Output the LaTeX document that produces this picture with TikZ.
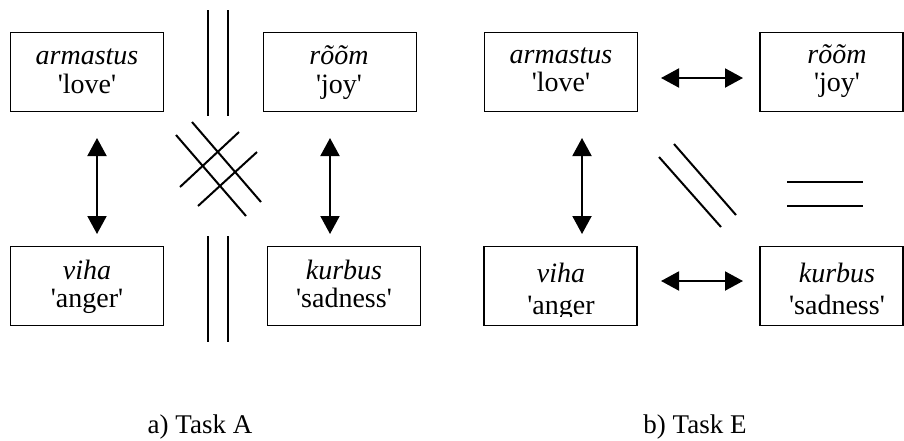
\documentclass[tikz,border=0pt]{standalone}
\usepackage{fontspec}
\setmainfont{Liberation Serif}[Ligatures=TeXOff]
\usetikzlibrary{arrows.meta}
\tikzset{
  wordbox/.style={draw=black, line width=1.8pt, minimum width=153pt, minimum height=79pt, inner sep=0pt},
  wordtxt/.style={anchor=base, inner sep=0pt, font=\fontsize{28}{30}\selectfont},
  captxt/.style={anchor=base, inner sep=0pt, font=\fontsize{27}{30}\selectfont},
  dbl/.style={line width=2pt},
  arr/.style={line width=2pt, {Triangle[width=19pt,length=18pt]}-{Triangle[width=19pt,length=18pt]}}
}
\begin{document}
\begin{tikzpicture}[x=1pt,y=-1pt]
\useasboundingbox (0,0) rectangle (904,440);
% ---------- panel a ----------
\node[wordbox] (aA) at (87,72) {};
\node[wordbox] (aR) at (340,72) {};
\node[wordbox] (aV) at (87,286) {};
\node[wordbox] (aK) at (344,286) {};
\node[wordtxt] (aAw) at (87,64) {\textit{armastus}};
\node[wordtxt] (aAg) at (87,93) {'love'};
\node[wordtxt] (aRw) at (339,64) {\textit{rõõm}};
\node[wordtxt] (aRg) at (339,93) {'joy'};
\node[wordtxt] (aVw) at (87,279) {\textit{viha}};
\node[wordtxt] (aVg) at (87,307) {'anger'};
\node[wordtxt] (aKw) at (344,279) {\textit{kurbus}};
\node[wordtxt] (aKg) at (344,307) {'sadness'};
% vertical arrows
\coordinate (aL1) at (97,138); \coordinate (aL2) at (97,234);
\coordinate (aR1) at (330,138); \coordinate (aR2) at (330,234);
\draw[arr] (aL1) -- (aL2);
\draw[arr] (aR1) -- (aR2);
% double vertical bars
\coordinate (t1a) at (208,10); \coordinate (t1b) at (208,116);
\coordinate (t2a) at (228,10); \coordinate (t2b) at (228,116);
\coordinate (b1a) at (208,236); \coordinate (b1b) at (208,342);
\coordinate (b2a) at (228,236); \coordinate (b2b) at (228,342);
\draw[dbl] (t1a) -- (t1b);
\draw[dbl] (t2a) -- (t2b);
\draw[dbl] (b1a) -- (b1b);
\draw[dbl] (b2a) -- (b2b);
% crosshatch
\coordinate (x1a) at (192,122); \coordinate (x1b) at (261,202);
\coordinate (x2a) at (176,135); \coordinate (x2b) at (246,216);
\coordinate (x3a) at (180,187); \coordinate (x3b) at (239,132);
\coordinate (x4a) at (198,206); \coordinate (x4b) at (257,152);
\draw[dbl] (x1a) -- (x1b);
\draw[dbl] (x2a) -- (x2b);
\draw[dbl] (x3a) -- (x3b);
\draw[dbl] (x4a) -- (x4b);
% ---------- panel b ----------
\node[wordbox] (bA) at (561,72) {};
\node[wordbox, minimum width=143pt] (bR) at (831.5,72) {};
\node[wordbox] (bV) at (560.5,286) {};
\node[wordbox, minimum width=143pt] (bK) at (831.5,286) {};
\node[wordtxt] (bAw) at (561,63) {\textit{armastus}};
\node[wordtxt] (bAg) at (561,91) {'love'};
\node[wordtxt] (bRw) at (837,63) {\textit{rõõm}};
\node[wordtxt] (bRg) at (837,91) {'joy'};
\node[wordtxt] (bVw) at (561,282) {\textit{viha}};
\begin{scope}
  \clip (490,290) rectangle (630,316.5);
  \node[wordtxt] (bVg) at (561,314) {'anger};
\end{scope}
\node[wordtxt] (bKw) at (837,282) {\textit{kurbus}};
\node[wordtxt] (bKg) at (837,314) {'sadness'};
% arrows
\coordinate (bT1) at (661,78); \coordinate (bT2) at (743,78);
\coordinate (bB1) at (661,281); \coordinate (bB2) at (743,281);
\coordinate (bL1) at (582,138); \coordinate (bL2) at (582,234);
\draw[arr] (bT1) -- (bT2);
\draw[arr] (bB1) -- (bB2);
\draw[arr] (bL1) -- (bL2);
% diagonal double line
\coordinate (d1a) at (659,157); \coordinate (d1b) at (721,227);
\coordinate (d2a) at (674,144); \coordinate (d2b) at (736,215);
\draw[dbl] (d1a) -- (d1b);
\draw[dbl] (d2a) -- (d2b);
% equals sign
\coordinate (e1a) at (787,182); \coordinate (e1b) at (863,182);
\coordinate (e2a) at (787,206); \coordinate (e2b) at (863,206);
\draw[dbl] (e1a) -- (e1b);
\draw[dbl] (e2a) -- (e2b);
% ---------- captions ----------
\node[captxt] (capA) at (200,433) {a) Task A};
\node[captxt] (capB) at (695,433) {b) Task E};
\end{tikzpicture}
\end{document}
